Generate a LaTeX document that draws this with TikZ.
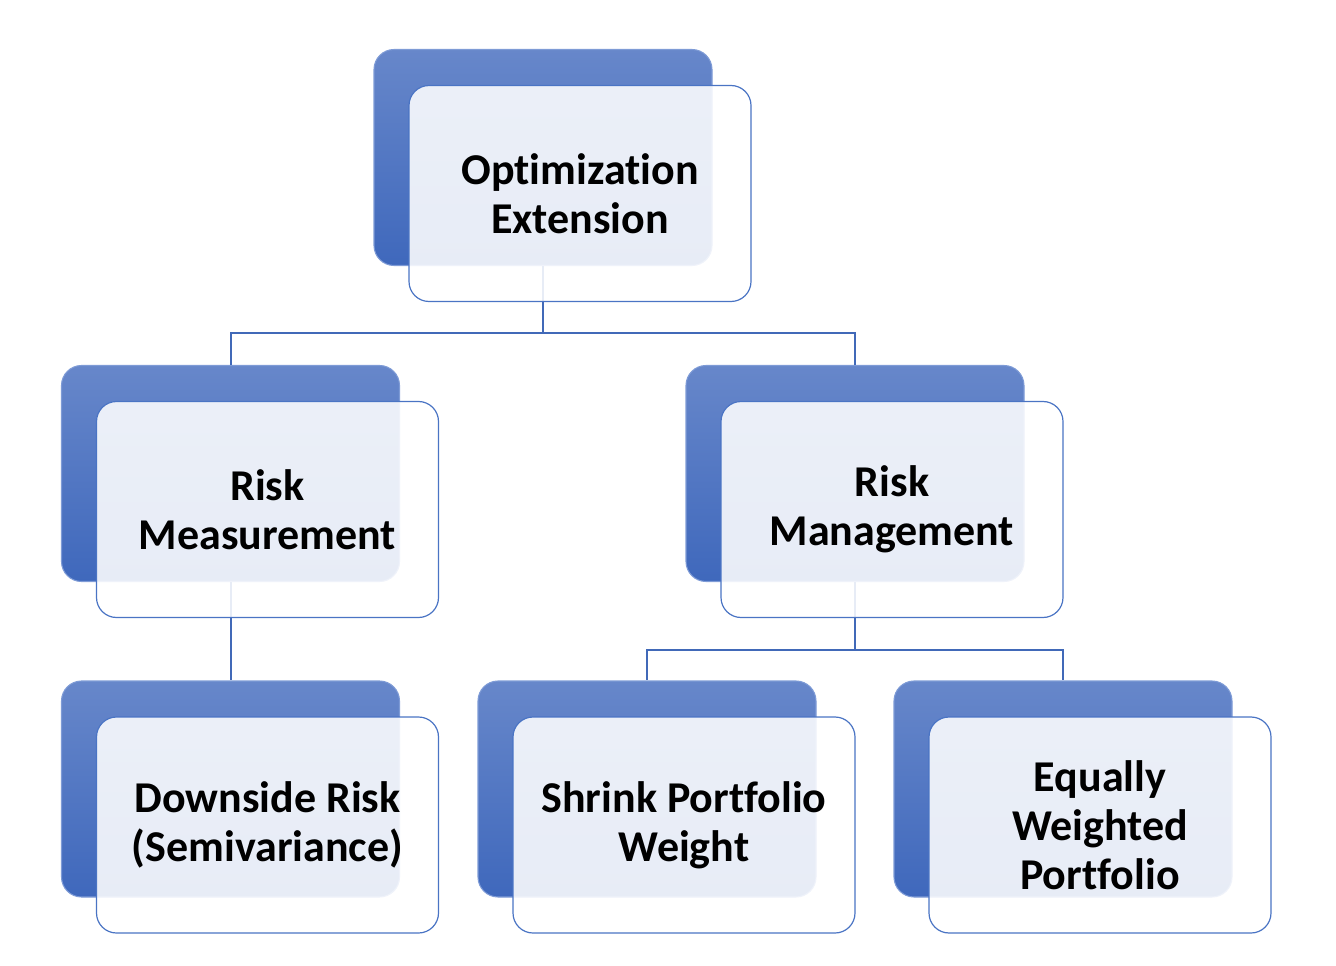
\documentclass[tikz,border=0pt]{standalone}
\usepackage{fontspec}
\setmainfont{Carlito}[Ligatures={NoCommon,NoRare}, Contextuals=NoAlternate, RawFeature=-calt]
\definecolor{backtop}{HTML}{6787CA}
\definecolor{backbot}{HTML}{3F68BC}
\definecolor{backline}{HTML}{7E9BD6}
\definecolor{frontline}{HTML}{4A74C4}
\definecolor{linkcol}{HTML}{4169B8}
\begin{document}
\begin{tikzpicture}[
		x=0.75pt, y=-0.75pt,
		backbox/.style={rounded corners=15pt, minimum width=253.5pt, minimum height=162pt, top color=backtop, bottom color=backbot, draw=backline, line width=0.8pt},
		frontbox/.style={rounded corners=15pt, minimum width=256.5pt, minimum height=162pt, draw=frontline, line width=0.9pt, fill=white, fill opacity=0.88, text opacity=1, align=center, xshift=27.75pt, yshift=-27pt, font=\bfseries\fontsize{33}{36.75}\selectfont},
		link/.style={draw=linkcol, line width=1.5pt}
		]
		\useasboundingbox (0,0) rectangle (1336,966);
		% back boxes
		\node[backbox] (opt) at (543,157.5) {};
		\node[backbox] (meas) at (230.5,473.5) {};
		\node[backbox] (mgmt) at (855,473.5) {};
		\node[backbox] (down) at (230.5,789) {};
		\node[backbox] (shrink) at (647,789) {};
		\node[backbox] (equal) at (1063,789) {};
		
		\draw[link] (opt.south) -- ++(0,67) -| (meas.north);
		\draw[link] (opt.south) -- ++(0,67) -| (mgmt.north);
		\draw[link] (meas.south) -- (down.north);
		\draw[link] (mgmt.south) -- ++(0,68) -| (shrink.north);
		\draw[link] (mgmt.south) -- ++(0,68) -| (equal.north);
		
		% front boxes
		\node[frontbox] (optf) at (opt) {Optimization\\Extension};
		\node[frontbox] (measf) at (meas) {Risk\\Measurement};
		\node[frontbox] (mgmtf) at (mgmt) {Risk\\Management};
		\node[frontbox] (downf) at (down) {Downside Risk\\(Semivariance)};
		\node[frontbox] (shrinkf) at (shrink) {Shrink Portfolio\\Weight};
		\node[frontbox] (equalf) at (equal) {Equally\\Weighted\\Portfolio};
	\end{tikzpicture}
\end{document}
